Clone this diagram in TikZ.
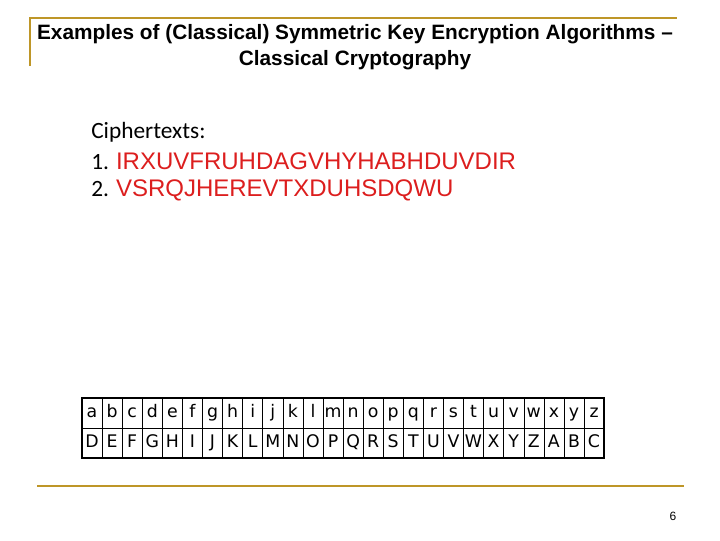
\documentclass[tikz,border=0pt]{standalone}
\usepackage{fontspec}
\setmainfont{Liberation Sans}
\newfontfamily\calibri{Carlito}
\newfontfamily\cellfont{DejaVu Sans}
\usetikzlibrary{positioning}
\definecolor{gold}{RGB}{190,150,40}
\definecolor{ciphred}{RGB}{220,30,30}
\begin{document}
\begin{tikzpicture}[x=0.75pt,y=-0.75pt,
    cell/.style={draw, minimum width=20.08*0.75pt, minimum height=30*0.75pt, inner sep=0pt, text height=9pt, text depth=2pt, font=\cellfont\fontsize{13}{13}\selectfont},
    cipher/.style={anchor=west, inner sep=0pt, font=\calibri\fontsize{17.5}{21}\selectfont}]
            \useasboundingbox (0,0) rectangle (720,540);
            % Frame
            \draw[gold, line width=2.2pt] (30,66) -- (30,18) -- (677,18);
            \draw[gold, line width=2.2pt] (37,486) -- (684,486);
            \node[font=\bfseries\fontsize{15.6}{19.5}\selectfont, align=center] (title) at (355,47)
                {Examples of (Classical) Symmetric Key Encryption Algorithms --\\Classical Cryptography};

            % Ciphertexts
            \node[cipher] (head) at (91,132) {Ciphertexts:};
            \node[cipher] (c1) at (91,161) {1. \textcolor{ciphred}{\rmfamily\fontsize{18}{21}\selectfont IRXUVFRUHDAGVHYHABHDUVDIR}};
            \node[cipher] (c2) at (91,190) {2. \textcolor{ciphred}{\rmfamily\fontsize{18}{21}\selectfont VSRQJHEREVTXDUHSDQWU}};

            % Table
            \foreach \p [count=\i] in {a,b,c,d,e,f,g,h,i,j,k,l,m,n,o,p,q,r,s,t,u,v,w,x,y,z}
                \node[cell] (p\i) at ({82+20.08*(\i-0.5)},413) {\p};
            \foreach \c [count=\i] in {D,E,F,G,H,I,J,K,L,M,N,O,P,Q,R,S,T,U,V,W,X,Y,Z,A,B,C}
                \node[cell] (k\i) at ({82+20.08*(\i-0.5)},443) {\c};
            \draw[line width=1.6pt] (p1.north west) rectangle (k26.south east);

            \node[font=\fontsize{9}{9}\selectfont] (page) at (673,516) {6};
        \end{tikzpicture}
\end{document}
